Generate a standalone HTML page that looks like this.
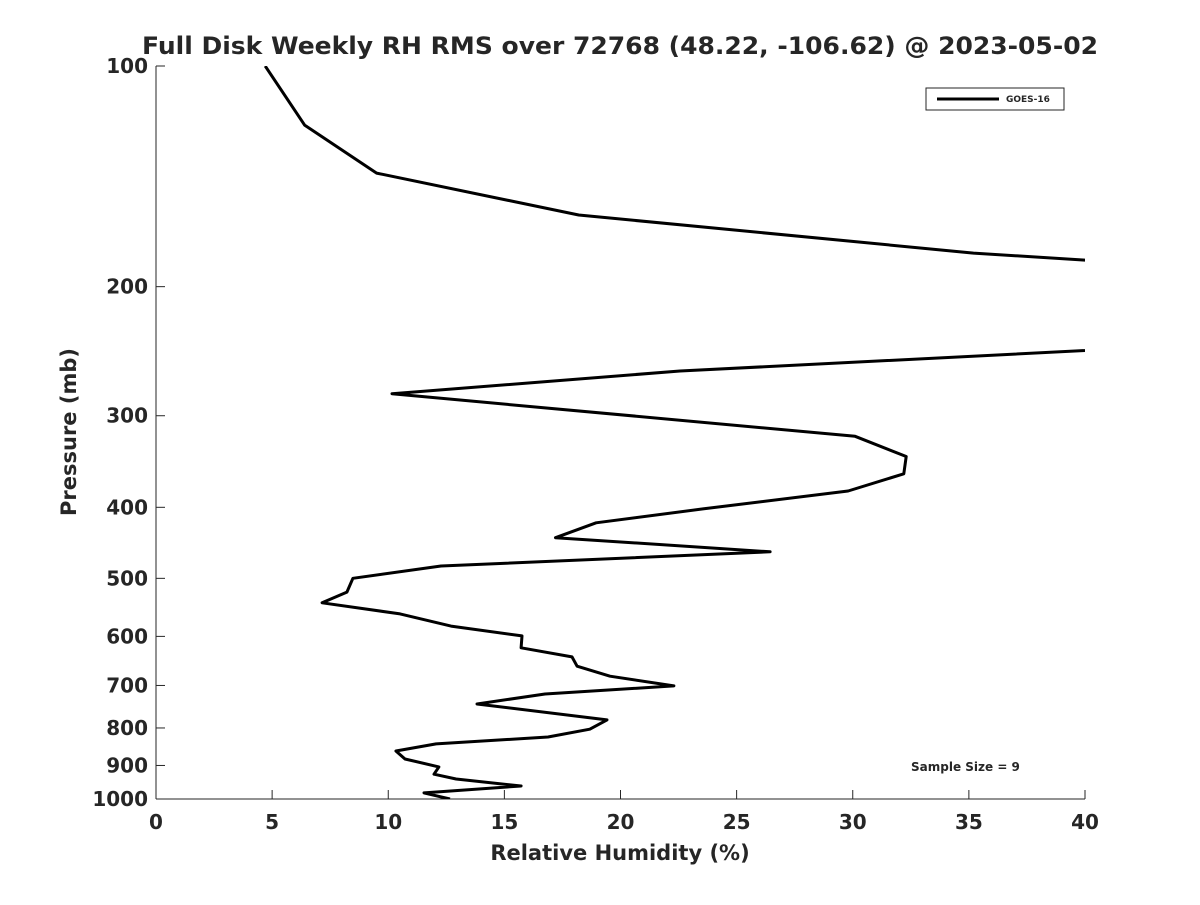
<!DOCTYPE html>
<html><head><meta charset="utf-8"><style>
body{margin:0;background:#fff;}
svg text{font-family:"DejaVu Sans","Liberation Sans",sans-serif;font-weight:bold;fill:#262626;}
</style></head><body>
<svg id="chart" width="1200" height="900" xmlns="http://www.w3.org/2000/svg">
<rect width="1200" height="900" fill="#fff"/>
<defs><clipPath id="plotclip"><rect x="156" y="66" width="929" height="733"/></clipPath></defs>
<text x="620" y="54" text-anchor="middle" font-size="24" textLength="956" lengthAdjust="spacingAndGlyphs">Full Disk Weekly RH RMS over 72768 (48.22, -106.62) @ 2023-05-02</text>
<g id="axes"></g>
<path id="series" clip-path="url(#plotclip)" fill="none" stroke="#000" stroke-width="3" stroke-linejoin="round"/>
<g>
<rect x="926" y="88" width="138" height="22" fill="#fff" stroke="#262626" stroke-width="1"/>
<line x1="937" y1="99" x2="999" y2="99" stroke="#000" stroke-width="3"/>
<text x="1006" y="102" font-size="9">GOES-16</text>
</g>
<text x="911" y="771" font-size="12">Sample Size = 9</text>
<text x="620" y="860" text-anchor="middle" font-size="21">Relative Humidity (%)</text>
<text transform="translate(76,432) rotate(-90)" text-anchor="middle" font-size="21">Pressure (mb)</text>
</svg>
<script>
const rhValues=[4.7,6.4,9.5,18.2,35.2,40,55,45,22.56,10.16,30.1,32.3,32.2,29.8,23.55,18.95,17.2,26.44,12.27,8.48,8.22,7.15,10.51,12.7,15.76,15.72,17.91,18.13,19.55,22.3,16.75,13.82,19.42,18.68,16.88,12.06,10.33,10.72,12.18,11.97,12.92,15.72,11.54,12.66];
const pressures=[100,120.4,140,159.7,180,184,215,240,260.7,280,320,341,360,380,402,420,440,460,481,500,522,540,559,581,599,622,640,659,680,701,719,742,780,803,823,841,860,882,904,925,939,960,981,1000];
const xTicks=[0,5,10,15,20,25,30,35,40];
const yTicks=[100,200,300,400,500,600,700,800,900,1000];
const X0=156,X1=1085,Y0=66,Y1=799;
const xs=v=>X0+(v-0)/(40-0)*(X1-X0);
const ys=p=>Y0+(Math.log10(p)-2)/(3-2)*(Y1-Y0);
const NS="http://www.w3.org/2000/svg";
const ax=document.getElementById('axes');
function mk(t,a){const e=document.createElementNS(NS,t);for(const k in a)e.setAttribute(k,a[k]);return e;}
const xl=mk('line',{x1:X0,y1:Y1,x2:X1,y2:Y1,stroke:'#262626','stroke-width':1});


ax.appendChild(xl);
const yl=mk('line',{x1:X0,y1:Y0,x2:X0,y2:Y1,stroke:'#262626','stroke-width':1});


ax.appendChild(yl);
xTicks.forEach(v=>{const x=xs(v);
ax.appendChild(mk('line',{x1:x,y1:Y1,x2:x,y2:Y1-9,stroke:'#262626'}));
const t=mk('text',{x:x,y:Y1+30,'text-anchor':'middle','font-size':20});t.textContent=v;


ax.appendChild(t);});
yTicks.forEach(p=>{const y=ys(p);
ax.appendChild(mk('line',{x1:X0,y1:y,x2:X0+9,y2:y,stroke:'#262626'}));
const t=mk('text',{x:X0-8,y:y+7,'text-anchor':'end','font-size':20});t.textContent=p;


ax.appendChild(t);});
document.getElementById('series').setAttribute('d',rhValues.map((v,i)=>(i?'L':'M')+xs(v).toFixed(1)+','+ys(pressures[i]).toFixed(1)).join(' '));
</script>
</body></html>
